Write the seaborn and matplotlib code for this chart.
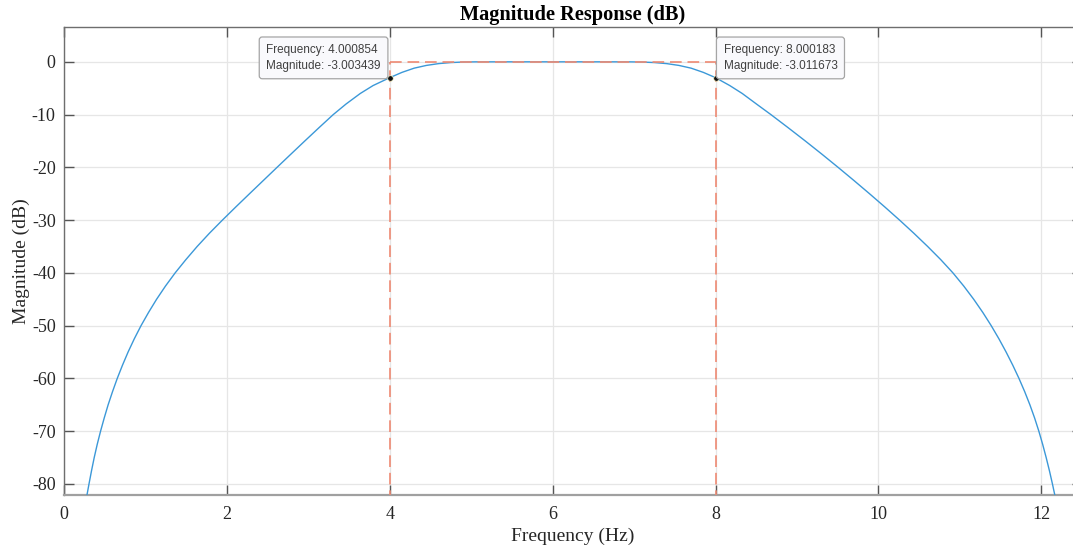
import matplotlib
matplotlib.use("Agg")
import matplotlib.pyplot as plt
import seaborn as sns
import pandas as pd

# Band-pass magnitude response samples (Hz, dB)
freq_hz = [0.282, 0.307, 0.338, 0.371, 0.408, 0.449, 0.494, 0.542, 0.596, 0.654, 0.718,
           0.787, 0.863, 0.946, 1.038, 1.137, 1.246, 1.365, 1.496, 1.635, 1.785, 1.945,
           2.110, 2.278, 2.447, 2.616, 2.786, 2.957, 3.130, 3.306, 3.463, 3.638, 3.795,
           4.0, 4.15, 4.3, 4.45, 4.6, 4.75, 4.9, 5.05, 5.5, 6.0, 6.5, 6.95, 7.1, 7.25, 7.4,
           7.55, 7.7, 7.85, 8.0, 8.175, 8.328, 8.503, 8.680, 8.893, 9.102, 9.306, 9.505,
           9.700, 9.891, 10.078, 10.260, 10.436, 10.605, 10.766, 10.915, 11.048, 11.170,
           11.282, 11.385, 11.480, 11.568, 11.650, 11.726, 11.796, 11.860, 11.918, 11.970,
           12.017, 12.060, 12.100, 12.137, 12.166]
mag_db = [-82.1, -80, -77.5, -75, -72.5, -70, -67.5, -65, -62.5, -60, -57.5,
          -55, -52.5, -50, -47.5, -45, -42.5, -40, -37.5, -35, -32.5, -30,
          -27.5, -25, -22.5, -20, -17.5, -15, -12.5, -10, -8, -6, -4.5,
          -3.0, -2.0, -1.2, -0.68, -0.34, -0.14, -0.04, -0.005, 0, 0, 0, -0.005, -0.04,
          -0.14, -0.34, -0.68, -1.2, -2.0, -3.0, -4.5, -6, -8, -10, -12.5, -15, -17.5,
          -20, -22.5, -25, -27.5, -30, -32.5, -35, -37.5, -40, -42.5, -45,
          -47.5, -50, -52.5, -55, -57.5, -60, -62.5, -65, -67.5, -70,
          -72.5, -75, -77.5, -80, -82.1]

# Cursor readouts at the -3 dB cutoff points
tip_freq = [4.000854, 8.000183]
tip_mag = [-3.003439, -3.011673]

x_ticks = [0, 2, 4, 6, 8, 10, 12]
y_ticks = [0, -10, -20, -30, -40, -50, -60, -70, -80]

sns.set_theme(style="white")
plt.rcParams["font.family"] = ["Liberation Serif", "DejaVu Serif"]
plt.rcParams["axes.unicode_minus"] = False

fig = plt.figure(figsize=(10.73, 5.54), dpi=100)
ax = fig.add_axes([64 / 1073, 59 / 554, 1018 / 1073, 468 / 554])

df = pd.DataFrame({"Frequency": freq_hz, "Magnitude": mag_db})
sns.lineplot(data=df, x="Frequency", y="Magnitude", ax=ax, color="#3B98D8",
             linewidth=1.0, sort=False, estimator=None, zorder=3)

ax.set_xlim(0, 12.5)
ax.set_ylim(-82.1, 6.6)
ax.set_xticks(x_ticks)
ax.set_yticks(y_ticks)
ax.set_xticklabels([str(v) for v in x_ticks])
ax.set_yticklabels([str(v) for v in y_ticks])

# Cutoff guides: verticals at each cutoff, horizontal across the passband
red = "#EE8A73"
dash = dict(color=red, linewidth=1.2, dashes=(7, 3.5), zorder=4)
ax.plot([tip_freq[0], tip_freq[0]], [-90, 0], **dash)
ax.plot([tip_freq[1], tip_freq[1]], [-90, 0], **dash)
ax.plot([tip_freq[0], tip_freq[1]], [0, 0], **dash)

ax.plot(tip_freq, tip_mag, linestyle="none", marker="o", markersize=4,
        markerfacecolor="#111111", markeredgecolor="#f5f5c8", markeredgewidth=0.5, zorder=6)

box = dict(boxstyle="round,pad=0.6,rounding_size=0.25", facecolor="#F9F9FC",
           edgecolor="#A5A5A5", linewidth=0.9)
tip_font = dict(family=["Liberation Sans", "DejaVu Sans"], size=8.5, color="#404040")
ax.annotate(f"Frequency: {tip_freq[0]:.6f}\nMagnitude: {tip_mag[0]:.6f}",
            xy=(tip_freq[0], tip_mag[0]), xytext=(-9, 6), textcoords="offset pixels",
            ha="right", va="bottom", multialignment="left", linespacing=1.4,
            bbox=box, zorder=7, **tip_font)
ax.annotate(f"Frequency: {tip_freq[1]:.6f}\nMagnitude: {tip_mag[1]:.6f}",
            xy=(tip_freq[1], tip_mag[1]), xytext=(8, 6), textcoords="offset pixels",
            ha="left", va="bottom", multialignment="left", linespacing=1.4,
            bbox=box, zorder=7, **tip_font)

ax.grid(True, color="#E6E6E6", linewidth=0.9, zorder=0)
ax.set_axisbelow(True)

for side in ["left", "top", "right"]:
    ax.spines[side].set_color("#6E6E6E")
    ax.spines[side].set_linewidth(1.0)
ax.spines["bottom"].set_color("#A0A0A0")
ax.spines["bottom"].set_linewidth(1.6)

ax.tick_params(axis="both", which="major", direction="in", length=7, width=1.0,
               color="#555555", labelsize=13, labelcolor="#262626",
               top=True, right=True, bottom=True, left=True)
ax.tick_params(axis="x", pad=8)
ax.tick_params(axis="y", pad=6)

ax.set_title("Magnitude Response (dB)", fontsize=14.7, fontweight="bold", color="#000000", pad=5)
ax.set_xlabel("Frequency (Hz)", fontsize=14, color="#262626", labelpad=3)
ax.set_ylabel("Magnitude (dB)", fontsize=14, color="#262626", labelpad=1)

fig.savefig("out.png", dpi=100)
